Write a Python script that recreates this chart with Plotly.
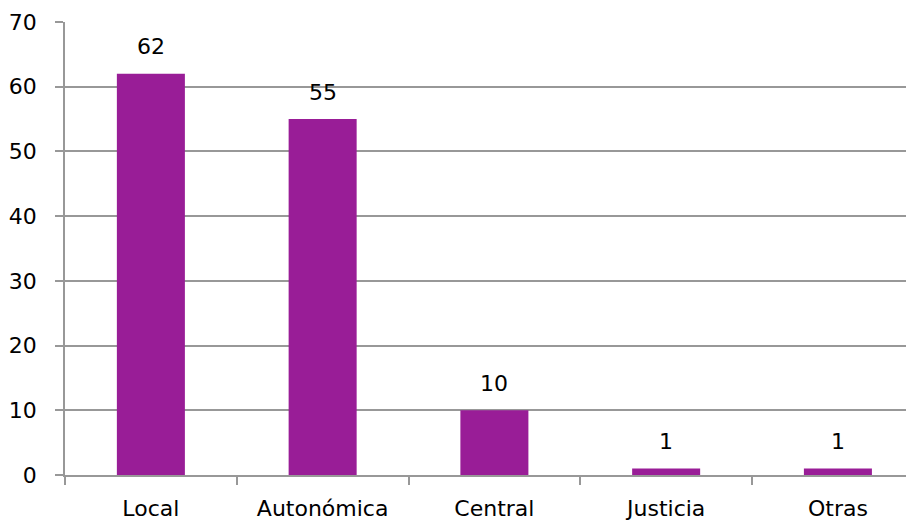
import plotly.graph_objects as go

categories = ["Local", "Autonómica", "Central", "Justicia", "Otras"]
values = [62, 55, 10, 1, 1]
y_ticks = [0, 10, 20, 30, 40, 50, 60, 70]

FONT = "DejaVu Sans"
FS = 22
BAR = "#991D97"
GRID = "#989898"

fig = go.Figure(go.Bar(x=categories, y=values, marker=dict(color=BAR, line=dict(width=0)),
                       hoverinfo="skip"))

for c, v in zip(categories, values):
    fig.add_annotation(x=c, y=v, text=str(v), showarrow=False, yanchor="middle",
                       yshift=27, font=dict(family=FONT, size=FS, color="#000000"))

fig.update_layout(
    width=906, height=515,
    margin=dict(l=57, r=0, t=14, b=48),
    paper_bgcolor="white", plot_bgcolor="white",
    bargap=0.604, showlegend=False,
    font=dict(family=FONT, size=FS, color="#000000"),
)
fig.update_xaxes(type="category", range=[-0.5, 4.443], tickson="boundaries",
                 ticks="outside", ticklen=8, tickcolor=GRID, tickwidth=1.5,
                 showline=True, linecolor=GRID, linewidth=1.5, showgrid=False,
                 ticklabelstandoff=13, automargin=False)
fig.update_yaxes(range=[0, 70], tickvals=y_ticks, ticks="outside", ticklen=8,
                 tickcolor=GRID, tickwidth=1.5, showline=True, linecolor=GRID,
                 linewidth=1.5, showgrid=True, gridcolor=GRID, gridwidth=1.5,
                 zeroline=False, ticklabelstandoff=14, automargin=False)

fig.write_html("out.html")
